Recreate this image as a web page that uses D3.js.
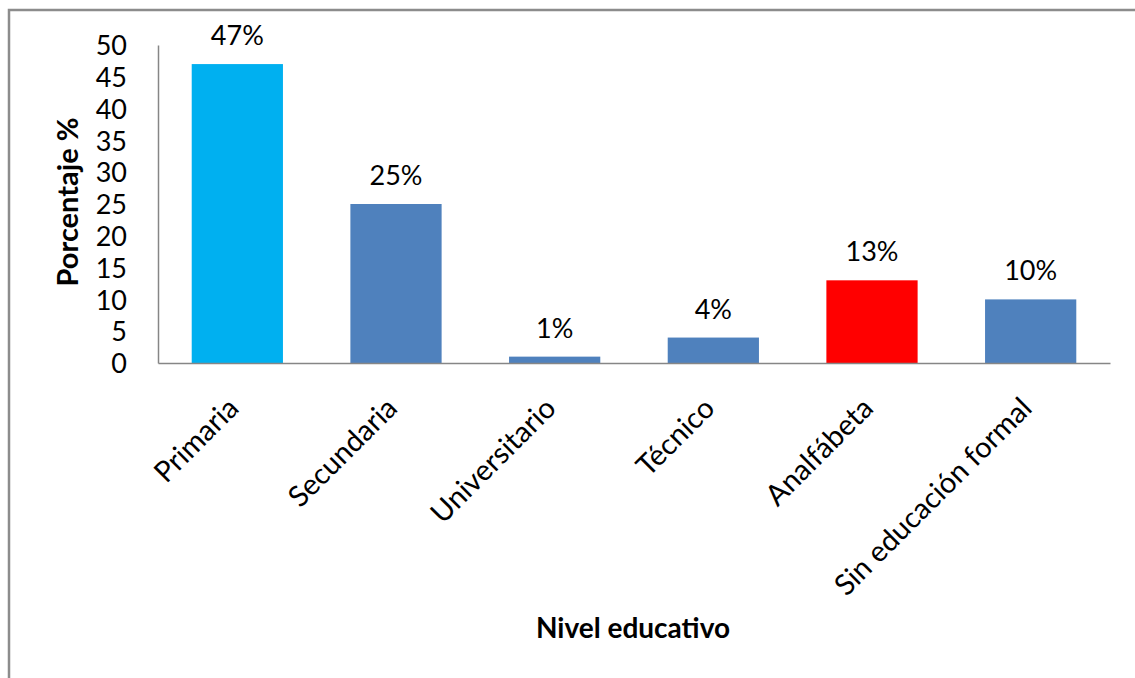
<!DOCTYPE html>
<html>
<head>
<meta charset="utf-8">
<script src="https://cdn.jsdelivr.net/npm/d3@7"></script>
<style>
  html, body { margin: 0; padding: 0; background: #fff; }
  svg { display: block; }
  text { font-family: Lato, "Open Sans", sans-serif; fill: #000; }
</style>
</head>
<body>
<svg id="chart" width="1135" height="678"></svg>
<script>
// Nivel educativo (porcentaje)
const categories = ["Primaria", "Secundaria", "Universitario", "Técnico", "Analfábeta", "Sin educación formal"];
const values = [47, 25, 1, 4, 13, 10];
const barColors = ["#00B0F0", "#4F81BD", "#4F81BD", "#4F81BD", "#FF0000", "#4F81BD"];
const yTicks = [0, 5, 10, 15, 20, 25, 30, 35, 40, 45, 50];

const svg = d3.select("#chart");
const W = 1135, H = 678;

// chart frame (only the top and left edges fall inside the canvas)
svg.append("path")
  .attr("d", `M9,${H} L9,10 L${W},10`)
  .attr("fill", "none")
  .attr("stroke", "#8c8c8c")
  .attr("stroke-width", 2.5);

const plot = { left: 158, right: 1110, top: 45, bottom: 363 };

const x = d3.scaleBand()
  .domain(categories)
  .range([plot.left, plot.right])
  .paddingInner(0.425)
  .paddingOuter(0.2125);

const y = d3.scaleLinear()
  .domain([0, 50])
  .range([plot.bottom, plot.top]);

// y axis
const yAxis = d3.axisLeft(y).tickValues(yTicks).tickSize(0).tickPadding(31);
const gy = svg.append("g").attr("transform", `translate(${plot.left},0)`).call(yAxis);
gy.select(".domain").attr("stroke", "#868686").attr("stroke-width", 1.5);
gy.selectAll("text").style("font-size", "27px").attr("dy", "0.36em");

// bars
svg.append("g").selectAll("rect")
  .data(values)
  .join("rect")
  .attr("x", (d, i) => x(categories[i]))
  .attr("y", d => y(d))
  .attr("width", x.bandwidth())
  .attr("height", d => y(0) - y(d))
  .attr("fill", (d, i) => barColors[i]);

// x axis line
const xAxis = d3.axisBottom(x).tickSize(0).tickFormat("");
const gx = svg.append("g").attr("transform", `translate(0,${plot.bottom})`).call(xAxis);
gx.select(".domain").attr("stroke", "#868686").attr("stroke-width", 1.5);

// value labels
svg.append("g").selectAll("text")
  .data(values)
  .join("text")
  .attr("x", (d, i) => x(categories[i]) + x.bandwidth() / 2)
  .attr("y", d => y(d) - 19)
  .attr("text-anchor", "middle")
  .style("font-size", "27px")
  .text(d => d + "%");

// rotated category labels
svg.append("g").selectAll("text")
  .data(categories)
  .join("text")
  .attr("transform", d => `translate(${x(d) + x.bandwidth() / 2 + 3},${plot.bottom + 47}) rotate(-45)`)
  .attr("text-anchor", "end")
  .style("font-size", "29px")
  .text(d => d);

// axis titles
svg.append("text")
  .attr("transform", `translate(78,202) rotate(-90)`)
  .attr("text-anchor", "middle")
  .style("font-size", "29px")
  .style("font-weight", "bold")
  .text("Porcentaje %");

svg.append("text")
  .attr("x", 633)
  .attr("y", 638)
  .attr("text-anchor", "middle")
  .style("font-size", "28px")
  .style("font-weight", "bold")
  .text("Nivel educativo");
</script>
</body>
</html>
